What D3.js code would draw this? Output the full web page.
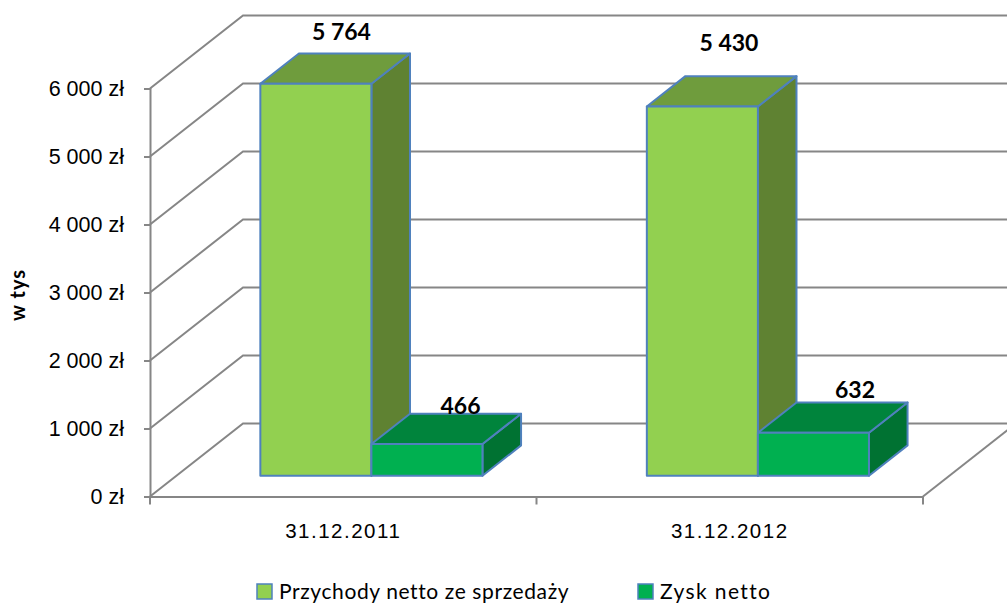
<!DOCTYPE html>
<html>
<head>
<meta charset="utf-8">
<script src="https://cdn.jsdelivr.net/npm/d3@7"></script>
<style>
    html, body { margin: 0; padding: 0; background: #fff; }
    svg { display: block; font-family: Lato, "Open Sans", sans-serif; }
</style>
</head>
<body>
<svg id="vis" width="1007" height="604"></svg>
<script>
// data
const categories = ["31.12.2011", "31.12.2012"];
const seriesNames = ["Przychody netto ze sprzedaży", "Zysk netto"];
const przychody = [5764, 5430];
const zysk = [466, 632];
const valueLabels = [["5 764", "5 430"], ["466", "632"]];
const yTicks = [0, 1000, 2000, 3000, 4000, 5000, 6000];
const yTickLabels = ["0 zł", "1 000 zł", "2 000 zł", "3 000 zł", "4 000 zł", "5 000 zł", "6 000 zł"];

const svg = d3.select("svg#vis");

// front plane of the 3d box
const y = d3.scaleLinear().domain([0, 6000]).range([496.5, 88.5]);
const x = d3.scaleBand().domain(categories).range([150, 923]);
const xSeries = d3.scaleBand().domain(seriesNames).range([0, x.bandwidth()])
    .paddingInner(0).paddingOuter(0.74).align(0.51);

// depth of the box, z runs 0..1 from front to back
const depthX = 93, depthY = 73;
const barZ0 = 0.285, barZ1 = 0.70;
function project(px, value, z) {
    return [px + z * depthX, y(value) - z * depthY];
}

const gridColor = "#868686";
const line = d3.line();
const walls = svg.append("g").attr("fill", "none").attr("stroke", gridColor).attr("stroke-width", 2);

// walls, gridlines run along the left side and then across the back
yTicks.forEach(function (t) {
    walls.append("path").attr("d", line([
        project(150, t, 0), project(150, t, 1), project(923, t, 1)
    ]));
});
// floor right edge
walls.append("path").attr("d", line([project(923, 0, 0), project(923, 0, 1)]));

// axes
const yAxis = d3.axisLeft(y).tickValues(yTicks)
    .tickFormat(function (d, i) { return yTickLabels[i]; })
    .tickSize(6).tickPadding(20);
const xAxis = d3.axisBottom(x).tickSize(0).tickPadding(27);

const yGroup = svg.append("g").attr("transform", "translate(150,0)").call(yAxis);
const xGroup = svg.append("g").attr("transform", "translate(0," + y(0) + ")").call(xAxis);

// band boundary ticks, the axis itself only has centre ticks
[150, 150 + x.step(), 923].forEach(function (px) {
    xGroup.append("line").attr("x1", px).attr("x2", px).attr("y1", 0).attr("y2", 8)
        .attr("stroke", gridColor).attr("stroke-width", 2);
});

[yGroup, xGroup].forEach(function (g) {
    g.selectAll(".domain").attr("stroke", gridColor).attr("stroke-width", 2);
    g.selectAll(".tick line").attr("stroke", gridColor).attr("stroke-width", 2);
    g.selectAll("text").attr("fill", "#000");
});
yGroup.selectAll("text").style("font-size", "21.5px");
xGroup.selectAll("text").style("font-size", "20.5px").style("letter-spacing", "1.5px");

// y axis title
svg.append("text")
    .attr("transform", "translate(25,295) rotate(-90)")
    .attr("text-anchor", "middle")
    .style("font-size", "20px")
    .style("font-weight", "bold")
    .style("letter-spacing", "1px")
    .text("w tys");

// bars
const seriesValues = [przychody, zysk];
const frontColor = ["#92D050", "#00B050"];
const topColor = ["#6F9C3D", "#00843C"];
const sideColor = ["#5F8232", "#007232"];
const barStroke = "#4F81BD";

const bars = svg.append("g");
categories.forEach(function (cat, c) {
    seriesNames.forEach(function (name, s) {
        const v = seriesValues[s][c];
        const x0 = x(cat) + xSeries(name);
        const x1 = x0 + xSeries.bandwidth();
        const g = bars.append("g").attr("stroke", barStroke).attr("stroke-width", 2).attr("stroke-linejoin", "round");

        g.append("path").attr("fill", sideColor[s]).attr("d", line([
            project(x1, 0, barZ0), project(x1, 0, barZ1), project(x1, v, barZ1), project(x1, v, barZ0)
        ]) + "Z");
        g.append("path").attr("fill", topColor[s]).attr("d", line([
            project(x0, v, barZ0), project(x0, v, barZ1), project(x1, v, barZ1), project(x1, v, barZ0)
        ]) + "Z");
        g.append("path").attr("fill", frontColor[s]).attr("d", line([
            project(x0, 0, barZ0), project(x1, 0, barZ0), project(x1, v, barZ0), project(x0, v, barZ0)
        ]) + "Z");
    });
});

// value labels were moved by hand in the original, so each has its own nudge
const labelNudge = [[[-13, -13], [-12, -25]], [[-5, 0], [3, -4]]];
categories.forEach(function (cat, c) {
    seriesNames.forEach(function (name, s) {
        const v = seriesValues[s][c];
        const p = project(x(cat) + xSeries(name) + xSeries.bandwidth() / 2, v, barZ1);
        svg.append("text")
            .attr("x", p[0] + labelNudge[s][c][0])
            .attr("y", p[1] + labelNudge[s][c][1])
            .attr("text-anchor", "middle")
            .style("font-size", "23px")
            .style("font-weight", "bold")
            .text(valueLabels[s][c]);
    });
});

// legend
const legendX = [257, 638];
const legendSpacing = ["0.6px", "1.4px"];
seriesNames.forEach(function (name, s) {
    svg.append("rect")
        .attr("x", legendX[s]).attr("y", 584)
        .attr("width", 15).attr("height", 15)
        .attr("fill", frontColor[s])
        .attr("stroke", barStroke).attr("stroke-width", 1.5);
    svg.append("text")
        .attr("x", legendX[s] + 22).attr("y", 599)
        .style("font-size", "21px")
        .style("letter-spacing", legendSpacing[s])
        .text(name);
});
</script>
</body>
</html>
